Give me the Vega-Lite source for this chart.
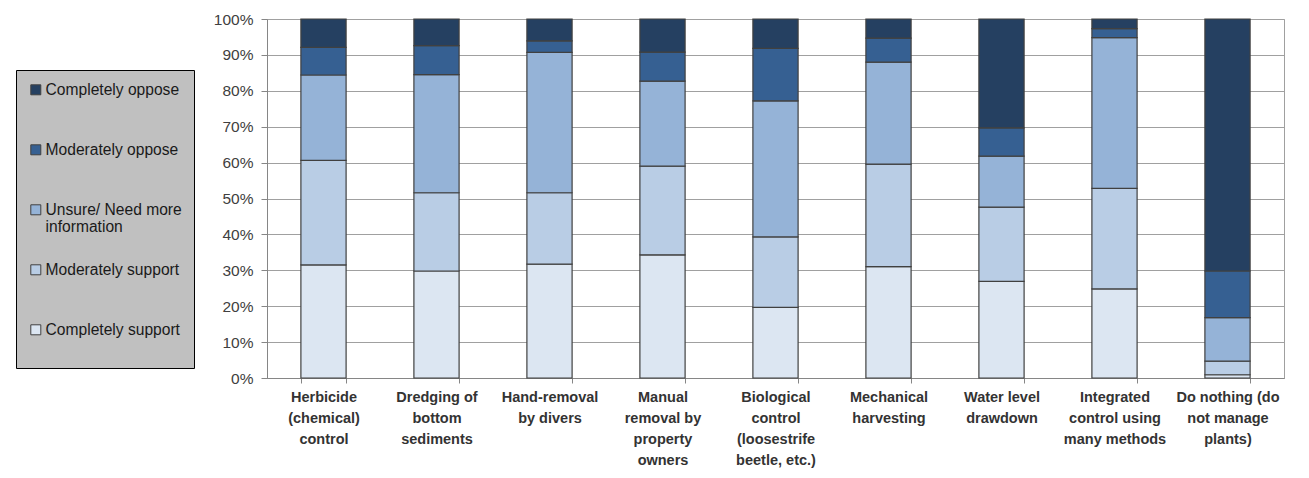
{
  "$schema": "https://vega.github.io/schema/vega-lite/v6.json",
  "width": 1017,
  "height": 359,
  "autosize": {"type": "none"},
  "padding": {"left": 267, "top": 19, "right": 25, "bottom": 100},
  "background": "white",
  "config": {"view": {"stroke": "#A0A0A0", "strokeWidth": 1}, "font": "Liberation Sans"},
  "data": {
    "values": [
      {"method": "Herbicide\n(chemical)\ncontrol", "response": "Completely support", "k": 1, "pct": 31.5},
      {"method": "Herbicide\n(chemical)\ncontrol", "response": "Moderately support", "k": 2, "pct": 29.1},
      {"method": "Herbicide\n(chemical)\ncontrol", "response": "Unsure/ Need more information", "k": 3, "pct": 23.8},
      {"method": "Herbicide\n(chemical)\ncontrol", "response": "Moderately oppose", "k": 4, "pct": 7.7},
      {"method": "Herbicide\n(chemical)\ncontrol", "response": "Completely oppose", "k": 5, "pct": 7.9},
      {"method": "Dredging of\nbottom\nsediments", "response": "Completely support", "k": 1, "pct": 29.8},
      {"method": "Dredging of\nbottom\nsediments", "response": "Moderately support", "k": 2, "pct": 21.8},
      {"method": "Dredging of\nbottom\nsediments", "response": "Unsure/ Need more information", "k": 3, "pct": 32.9},
      {"method": "Dredging of\nbottom\nsediments", "response": "Moderately oppose", "k": 4, "pct": 8.1},
      {"method": "Dredging of\nbottom\nsediments", "response": "Completely oppose", "k": 5, "pct": 7.4},
      {"method": "Hand-removal\nby divers", "response": "Completely support", "k": 1, "pct": 31.7},
      {"method": "Hand-removal\nby divers", "response": "Moderately support", "k": 2, "pct": 19.9},
      {"method": "Hand-removal\nby divers", "response": "Unsure/ Need more information", "k": 3, "pct": 39.1},
      {"method": "Hand-removal\nby divers", "response": "Moderately oppose", "k": 4, "pct": 3.2},
      {"method": "Hand-removal\nby divers", "response": "Completely oppose", "k": 5, "pct": 6.1},
      {"method": "Manual\nremoval by\nproperty\nowners", "response": "Completely support", "k": 1, "pct": 34.3},
      {"method": "Manual\nremoval by\nproperty\nowners", "response": "Moderately support", "k": 2, "pct": 24.7},
      {"method": "Manual\nremoval by\nproperty\nowners", "response": "Unsure/ Need more information", "k": 3, "pct": 23.7},
      {"method": "Manual\nremoval by\nproperty\nowners", "response": "Moderately oppose", "k": 4, "pct": 8.1},
      {"method": "Manual\nremoval by\nproperty\nowners", "response": "Completely oppose", "k": 5, "pct": 9.2},
      {"method": "Biological\ncontrol\n(loosestrife\nbeetle, etc.)", "response": "Completely support", "k": 1, "pct": 19.7},
      {"method": "Biological\ncontrol\n(loosestrife\nbeetle, etc.)", "response": "Moderately support", "k": 2, "pct": 19.6},
      {"method": "Biological\ncontrol\n(loosestrife\nbeetle, etc.)", "response": "Unsure/ Need more information", "k": 3, "pct": 37.9},
      {"method": "Biological\ncontrol\n(loosestrife\nbeetle, etc.)", "response": "Moderately oppose", "k": 4, "pct": 14.6},
      {"method": "Biological\ncontrol\n(loosestrife\nbeetle, etc.)", "response": "Completely oppose", "k": 5, "pct": 8.2},
      {"method": "Mechanical\nharvesting", "response": "Completely support", "k": 1, "pct": 31.0},
      {"method": "Mechanical\nharvesting", "response": "Moderately support", "k": 2, "pct": 28.6},
      {"method": "Mechanical\nharvesting", "response": "Unsure/ Need more information", "k": 3, "pct": 28.4},
      {"method": "Mechanical\nharvesting", "response": "Moderately oppose", "k": 4, "pct": 6.7},
      {"method": "Mechanical\nharvesting", "response": "Completely oppose", "k": 5, "pct": 5.3},
      {"method": "Water level\ndrawdown", "response": "Completely support", "k": 1, "pct": 26.9},
      {"method": "Water level\ndrawdown", "response": "Moderately support", "k": 2, "pct": 20.7},
      {"method": "Water level\ndrawdown", "response": "Unsure/ Need more information", "k": 3, "pct": 14.2},
      {"method": "Water level\ndrawdown", "response": "Moderately oppose", "k": 4, "pct": 7.9},
      {"method": "Water level\ndrawdown", "response": "Completely oppose", "k": 5, "pct": 30.3},
      {"method": "Integrated\ncontrol using\nmany methods", "response": "Completely support", "k": 1, "pct": 24.8},
      {"method": "Integrated\ncontrol using\nmany methods", "response": "Moderately support", "k": 2, "pct": 28.0},
      {"method": "Integrated\ncontrol using\nmany methods", "response": "Unsure/ Need more information", "k": 3, "pct": 42.0},
      {"method": "Integrated\ncontrol using\nmany methods", "response": "Moderately oppose", "k": 4, "pct": 2.5},
      {"method": "Integrated\ncontrol using\nmany methods", "response": "Completely oppose", "k": 5, "pct": 2.7},
      {"method": "Do nothing (do\nnot manage\nplants)", "response": "Completely support", "k": 1, "pct": 0.9},
      {"method": "Do nothing (do\nnot manage\nplants)", "response": "Moderately support", "k": 2, "pct": 3.8},
      {"method": "Do nothing (do\nnot manage\nplants)", "response": "Unsure/ Need more information", "k": 3, "pct": 12.1},
      {"method": "Do nothing (do\nnot manage\nplants)", "response": "Moderately oppose", "k": 4, "pct": 13.0},
      {"method": "Do nothing (do\nnot manage\nplants)", "response": "Completely oppose", "k": 5, "pct": 70.2}
    ]
  },
  "mark": {"type": "bar", "stroke": "#404040", "strokeWidth": 1.2},
  "encoding": {
    "x": {
      "field": "method",
      "type": "nominal",
      "sort": null,
      "scale": {"paddingInner": 0.6, "paddingOuter": 0.3},
      "axis": {
        "title": null,
        "labelAngle": 0,
        "labelExpr": "split(datum.label, '\\n')",
        "labelFont": "Liberation Sans",
        "labelFontWeight": "bold",
        "labelFontSize": 14.5,
        "labelColor": "#333333",
        "labelLineHeight": 21,
        "labelPadding": 7,
        "labelBaseline": "top",
        "labelLimit": 200,
        "labelOverlap": false,
        "tickBand": "extent",
        "tickSize": 5,
        "tickColor": "#868686",
        "domainColor": "#868686",
        "grid": false
      }
    },
    "y": {
      "field": "pct",
      "type": "quantitative",
      "stack": "normalize",
      "scale": {"domain": [0, 1]},
      "axis": {
        "title": null,
        "format": ".0%",
        "values": [0, 0.1, 0.2, 0.3, 0.4, 0.5, 0.6, 0.7, 0.8, 0.9, 1],
        "grid": true,
        "gridColor": "#A0A0A0",
        "gridWidth": 1,
        "tickSize": 6,
        "tickColor": "#868686",
        "domainColor": "#868686",
        "labelFont": "Liberation Sans",
        "labelFontSize": 15.5,
        "labelColor": "#404040",
        "labelPadding": 8
      }
    },
    "color": {
      "field": "response",
      "type": "nominal",
      "scale": {
        "domain": ["Completely oppose", "Moderately oppose", "Unsure/ Need more information", "Moderately support", "Completely support"],
        "range": ["#254061", "#366092", "#95B3D7", "#B9CDE5", "#DCE6F2"]
      },
      "legend": {
        "title": null,
        "orient": "none",
        "legendX": -251,
        "legendY": 51,
        "direction": "vertical",
        "fillColor": "#C0C0C0",
        "strokeColor": "#000000",
        "padding": 12,
        "symbolType": "square",
        "symbolSize": 100,
        "symbolStrokeColor": "#404040",
        "symbolStrokeWidth": 1,
        "symbolOpacity": 1,
        "labelFont": "Liberation Sans",
        "labelFontSize": 15.6,
        "labelColor": "#1a1a1a",
        "labelOffset": 2,
        "labelLimit": 200,
        "rowPadding": 26,
        "labelExpr": "datum.label == 'Unsure/ Need more information' ? ['Unsure/ Need more', 'information'] : [datum.label, ' ']"
      }
    },
    "order": {"field": "k", "type": "quantitative"}
  }
}
